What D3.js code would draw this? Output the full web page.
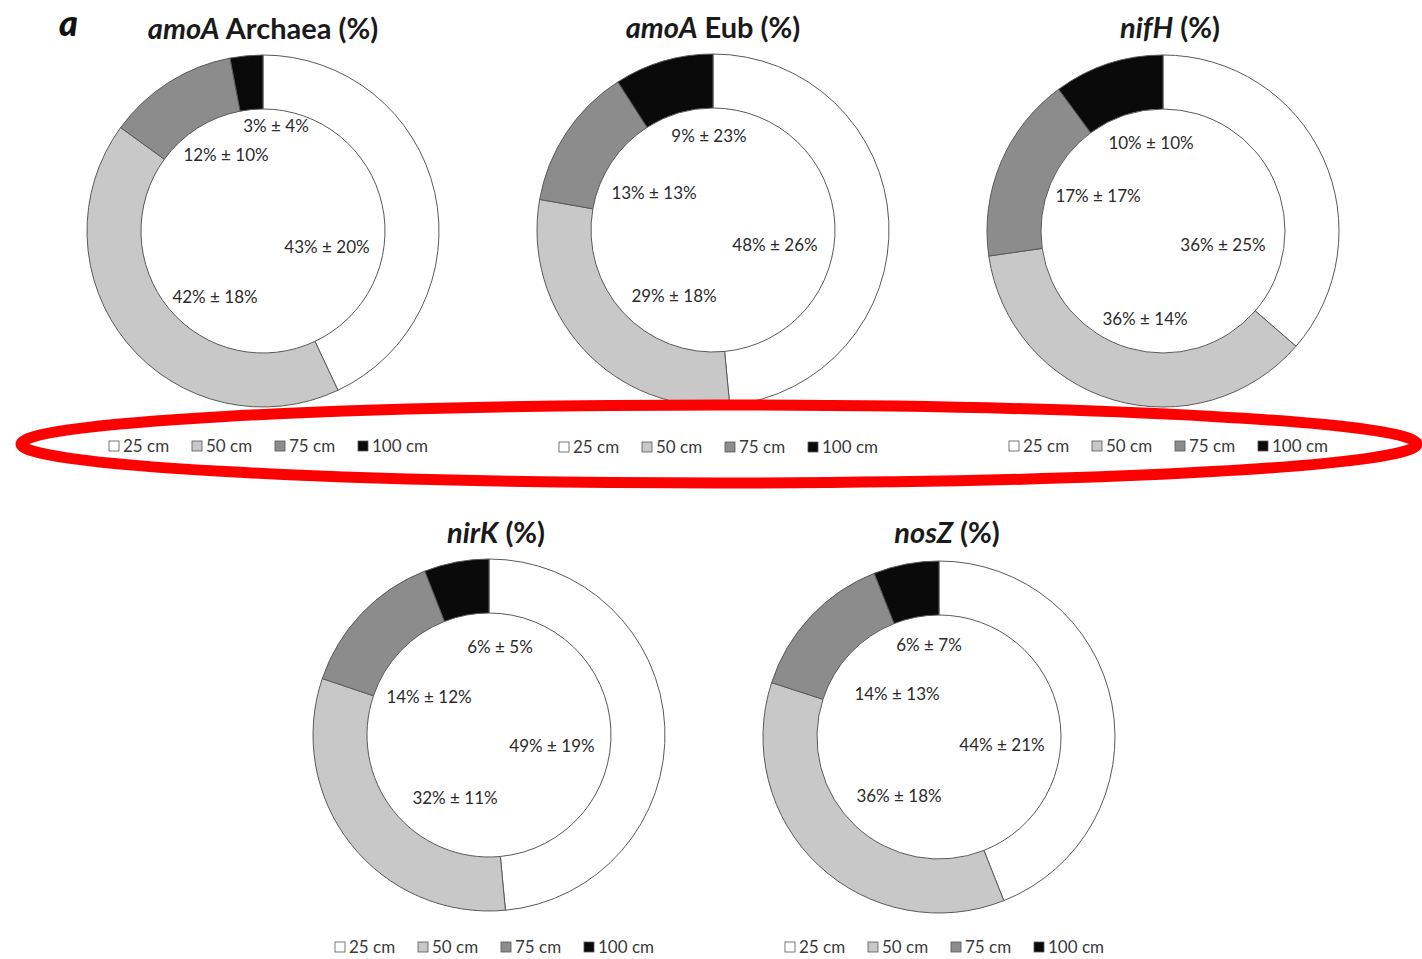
<!DOCTYPE html>
<html>
<head>
<meta charset="utf-8">
<script src="https://cdn.jsdelivr.net/npm/d3@7/dist/d3.min.js"></script>
<style>
  html, body { margin: 0; padding: 0; background: #fff; }
  svg { display: block; }
</style>
</head>
<body>
<script>
// Gene targets shown in each ring (italic gene name + plain suffix)
const genes = ["amoA", "amoA", "nifH", "nirK", "nosZ"];
const geneSuffix = [" Archaea (%)", " Eub (%)", " (%)", " (%)", " (%)"];

// Soil depths (ring segments, clockwise from 12 o'clock)
const depths = ["25 cm", "50 cm", "75 cm", "100 cm"];

// Mean share of gene copies per depth (%), one row per gene
const meanAmoAArchaea = [43, 42, 12, 3];
const meanAmoAEub     = [48, 29, 13, 9];
const meanNifH        = [36, 36, 17, 10];
const meanNirK        = [49, 32, 14, 6];
const meanNosZ        = [44, 36, 14, 6];

// Standard deviation of the share per depth (%)
const sdAmoAArchaea = [20, 18, 10, 4];
const sdAmoAEub     = [26, 18, 13, 23];
const sdNifH        = [25, 14, 17, 10];
const sdNirK        = [19, 11, 12, 5];
const sdNosZ        = [21, 18, 13, 7];

const means = [meanAmoAArchaea, meanAmoAEub, meanNifH, meanNirK, meanNosZ];
const sds   = [sdAmoAArchaea, sdAmoAEub, sdNifH, sdNirK, sdNosZ];

// ---- layout ----
const W = 1422, H = 959;
const panelCenters = [[263, 231], [713, 230], [1163, 231], [489, 735], [939, 737]];
const outerR = 176, innerR = 122;
// label anchors, offset from each ring's centre (per depth)
const labelOffsets = [
  [[64, 16], [-48, 66], [-37, -76], [13, -105]],
  [[62, 15], [-39, 66], [-59, -37], [-4, -94]],
  [[60, 14], [-18, 88], [-65, -35], [-12, -88]],
  [[63, 11], [-34, 63], [-60, -38], [11, -88]],
  [[63, 8], [-40, 59], [-42, -43], [-10, -92]]
];
const titleDx = [0, 0, 7, 7, 8];
const titleY = [39, 38, 38, 543, 543];
const legendY = [446, 447, 446, 947, 947];

const fill = d3.scaleOrdinal().domain(depths).range(["#ffffff", "#c8c8c8", "#8c8c8c", "#0a0a0a"]);

const svg = d3.select("body").append("svg")
  .attr("width", W).attr("height", H)
  .attr("viewBox", [0, 0, W, H]);

const font = "Lato, 'Open Sans', sans-serif";

// panel letter
svg.append("text")
  .attr("x", 59).attr("y", 36)
  .attr("font-family", font).attr("font-weight", 900).attr("font-style", "italic")
  .attr("font-size", 36).attr("fill", "#111")
  .text("a");

const pie = d3.pie().sort(null).value(d => d.v);
const arc = d3.arc().innerRadius(innerR).outerRadius(outerR);

genes.forEach((gene, i) => {
  const [cx, cy] = panelCenters[i];
  const g = svg.append("g").attr("transform", `translate(${cx},${cy})`);
  const rows = depths.map((d, j) => ({ depth: d, v: means[i][j], sd: sds[i][j] }));
  const arcs = pie(rows);

  g.selectAll("path.seg").data(arcs).join("path")
    .attr("class", "seg")
    .attr("d", arc)
    .attr("fill", d => fill(d.data.depth))
    .attr("stroke", "#5a5a5a")
    .attr("stroke-width", 1);

  g.selectAll("text.val").data(arcs).join("text")
    .attr("class", "val")
    .attr("x", (d, j) => labelOffsets[i][j][0])
    .attr("y", (d, j) => labelOffsets[i][j][1])
    .attr("dy", "0.35em")
    .attr("text-anchor", "middle")
    .attr("font-family", font).attr("font-size", 17)
    .attr("fill", "#2b2b2b")
    .text(d => `${d.data.v}% ± ${d.data.sd}%`);

  // title
  const t = svg.append("text")
    .attr("x", cx + titleDx[i]).attr("y", titleY[i])
    .attr("text-anchor", "middle")
    .attr("font-family", font).attr("font-weight", 700)
    .attr("font-size", 29).attr("fill", "#1a1a1a");
  t.append("tspan").attr("font-style", "italic").text(gene);
  t.append("tspan").text(geneSuffix[i]);

  // legend
  const itemW = 83;
  const lg = svg.append("g")
    .attr("transform", `translate(${cx - 154},${legendY[i]})`);
  const items = lg.selectAll("g").data(depths).join("g")
    .attr("transform", (d, j) => `translate(${j * itemW},0)`);
  items.append("rect")
    .attr("x", 0).attr("y", -5).attr("width", 10).attr("height", 10)
    .attr("fill", d => fill(d))
    .attr("stroke", "#555").attr("stroke-width", 0.8);
  items.append("text")
    .attr("x", 14).attr("y", 0).attr("dy", "0.35em")
    .attr("font-family", font).attr("font-size", 17)
    .attr("fill", "#3a3a3a")
    .text(d => d);
});

// highlight ring around the first legend row
svg.append("ellipse")
  .attr("cx", 719).attr("cy", 444)
  .attr("rx", 698).attr("ry", 39)
  .attr("fill", "none")
  .attr("stroke", "#ff0000")
  .attr("stroke-width", 11);
</script>
</body>
</html>
